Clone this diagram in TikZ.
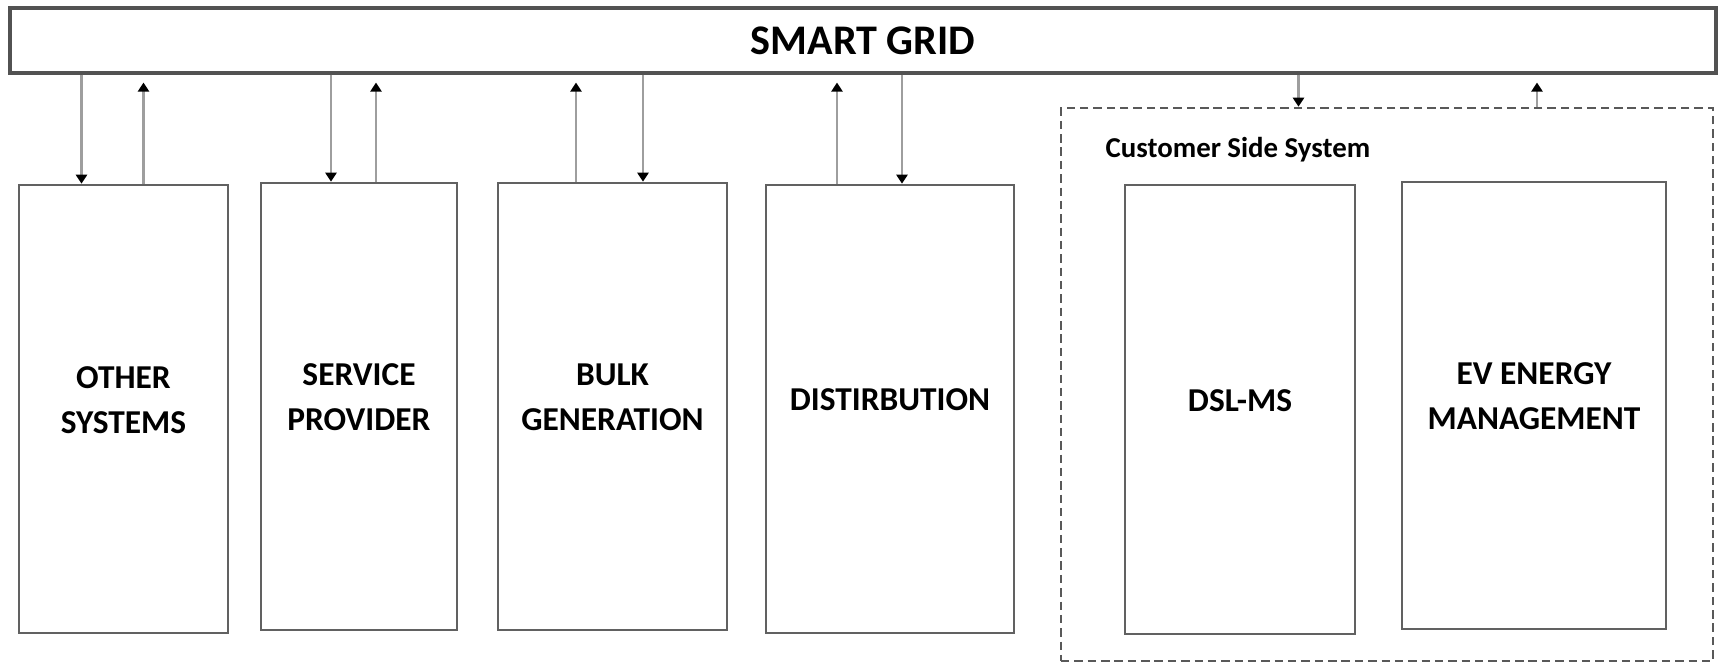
\documentclass[tikz,border=0pt]{standalone}
\usepackage{fontspec}
\setmainfont{Carlito}
\usetikzlibrary{arrows.meta,positioning}

\begin{document}
\begin{tikzpicture}[>={Triangle[width=3.2pt,length=2.6pt,color=black]},
  sysbox/.style={draw=black!62,line width=0.75pt,inner sep=0pt},
  lbl/.style={align=center,font=\bfseries\fontsize{9.5}{12.8}\selectfont,yshift=0.9mm},
  link/.style={->,draw=black!38,line width=0.75pt}]
  \useasboundingbox (0,0) rectangle (17.19,-6.64);

  % Top bar
  \node[draw=black!68,line width=0.9pt,minimum width=17.06cm,minimum height=0.65cm,inner sep=0pt,
        font=\bfseries\fontsize{12}{14}\selectfont] (grid) at (8.63,-0.405) {SMART GRID};

  % Domains
  \node[sysbox,minimum width=2.09cm,minimum height=4.48cm] (other) at (1.235,-4.09) {};
  \node[lbl] (otherlbl) at (other) {OTHER\\SYSTEMS};
  \node[sysbox,minimum width=1.96cm,minimum height=4.47cm] (service) at (3.59,-4.065) {};
  \node[lbl] (servicelbl) at (service) {SERVICE\\PROVIDER};
  \node[sysbox,minimum width=2.29cm,minimum height=4.47cm] (bulk) at (6.125,-4.065) {};
  \node[lbl] (bulklbl) at (bulk) {BULK\\GENERATION};
  \node[sysbox,minimum width=2.48cm,minimum height=4.48cm] (distrib) at (8.90,-4.09) {};
  \node[lbl] (distriblbl) at (distrib) {DISTIRBUTION};

  % Customer side
  \node[draw=black!65,line width=0.75pt,dash pattern=on 2.4pt off 1.4pt,
        minimum width=6.52cm,minimum height=5.53cm,inner sep=0pt] (customer) at (13.87,-3.845) {};
  \node[font=\bfseries\fontsize{8.2}{10}\selectfont,anchor=base west,inner sep=0pt] (custlbl) at (11.05,-1.57) {Customer Side System};
  \node[sysbox,minimum width=2.30cm,minimum height=4.49cm] (dslms) at (12.40,-4.095) {};
  \node[lbl] (dslmslbl) at (dslms) {DSL-MS};
  \node[sysbox,minimum width=2.64cm,minimum height=4.47cm] (evem) at (15.34,-4.055) {};
  \node[lbl] (evemlbl) at (evem) {EV ENERGY\\MANAGEMENT};

  % Links to the grid
  \draw[link] ([xshift=-4.2mm]other.north |- grid.south) -- ([xshift=-4.2mm]other.north);
  \draw[link,shorten >=0.8mm] ([xshift=2mm]other.north) -- ([xshift=2mm]other.north |- grid.south);
  \draw[link] ([xshift=-2.8mm]service.north |- grid.south) -- ([xshift=-2.8mm]service.north);
  \draw[link,shorten >=0.8mm] ([xshift=1.7mm]service.north) -- ([xshift=1.7mm]service.north |- grid.south);
  \draw[link,shorten >=0.8mm] ([xshift=-3.65mm]bulk.north) -- ([xshift=-3.65mm]bulk.north |- grid.south);
  \draw[link] ([xshift=3.05mm]bulk.north |- grid.south) -- ([xshift=3.05mm]bulk.north);
  \draw[link,shorten >=0.8mm] ([xshift=-5.3mm]distrib.north) -- ([xshift=-5.3mm]distrib.north |- grid.south);
  \draw[link] ([xshift=1.2mm]distrib.north |- grid.south) -- ([xshift=1.2mm]distrib.north);
  \draw[link] ([xshift=-8.85mm]customer.north |- grid.south) -- ([xshift=-8.85mm]customer.north);
  \draw[link,shorten >=0.8mm] ([xshift=15mm]customer.north) -- ([xshift=15mm]customer.north |- grid.south);
\end{tikzpicture}
\end{document}
